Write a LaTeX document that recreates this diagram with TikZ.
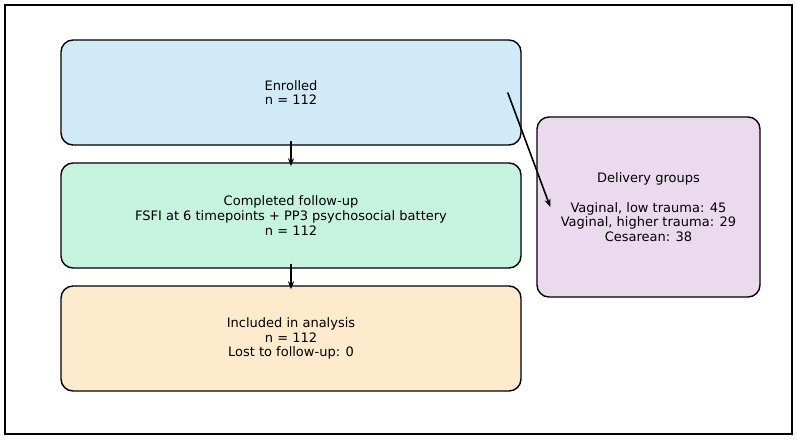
\documentclass[tikz,border=0pt]{standalone}
\usepackage{fontspec}
\setmainfont{DejaVu Sans}
\usetikzlibrary{arrows.meta}

\begin{document}
\begin{tikzpicture}[x=1pt, y=-1pt,
    flowbox/.style={draw=black, line width=1.4pt, rounded corners=12pt,
        align=center, inner sep=0pt, font=\fontsize{13}{14.6}\selectfont},
    flowarrow/.style={line width=1.6pt, -{Stealth[length=8pt, width=6pt]}}]
    % Fix the page to the reference size
    \useasboundingbox (0, 0) rectangle (797, 440);
    \draw[line width=1.4pt] (5, 5) rectangle (792, 434);

    % Colours of the boxes
    \definecolor{enrollblue}{HTML}{D0EAF8}
    \definecolor{followgreen}{HTML}{C5F3E0}
    \definecolor{analysisorange}{HTML}{FEEACC}
    \definecolor{groupviolet}{HTML}{EBDAEE}

    % Main flow (left column)
    \node[flowbox, fill=enrollblue, minimum width=460pt, minimum height=105pt]
        (enrolled) at (291, 92.5) {Enrolled\\n = 112};
    \node[flowbox, fill=followgreen, minimum width=460pt, minimum height=105pt]
        (followup) at (291, 215.5) {Completed follow-up\\FSFI at 6 timepoints + PP3 psychosocial battery\\n = 112};
    \node[flowbox, fill=analysisorange, minimum width=460pt, minimum height=105pt]
        (analysis) at (291, 338.5) {Included in analysis\\n = 112\\Lost to follow-up: 0};

    % Side box
    \node[flowbox, fill=groupviolet, minimum width=223pt, minimum height=180pt]
        (groups) at (648.5, 207) {Delivery groups\\[15pt]Vaginal, low trauma: 45\\Vaginal, higher trauma: 29\\Cesarean: 38};

    % Arrows
    \draw[flowarrow] ([yshift=5pt]enrolled.south) -- ([yshift=-4pt]followup.north);
    \draw[flowarrow] ([yshift=5pt]followup.south) -- ([yshift=-4pt]analysis.north);
    \draw[flowarrow] ([xshift=-14pt]enrolled.east) -- ([xshift=14pt]groups.west);
\end{tikzpicture}
\end{document}
